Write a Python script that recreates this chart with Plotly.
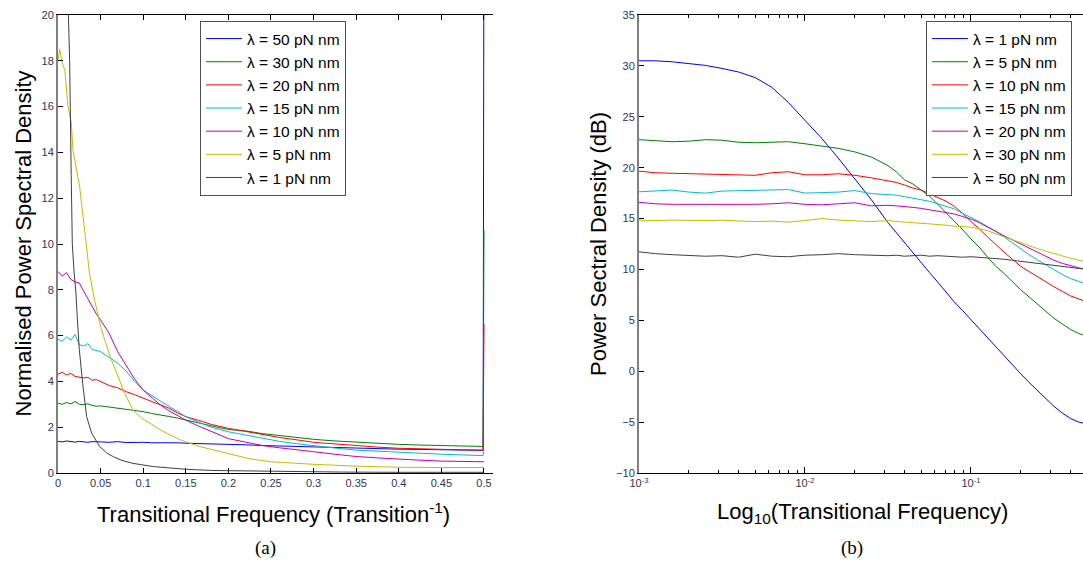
import plotly.graph_objects as go

# ---------------- Panel (a): linear frequency, normalised PSD ----------------
X_A = [0, 0.005, 0.01, 0.015, 0.02, 0.025, 0.03, 0.035, 0.04, 0.045, 0.05, 0.06, 0.07, 0.08,
       0.09, 0.1, 0.11, 0.12, 0.13, 0.14, 0.15, 0.165, 0.18, 0.2, 0.22, 0.24, 0.26, 0.28, 0.3,
       0.325, 0.35, 0.375, 0.4, 0.425, 0.45, 0.475, 0.499, 0.5]

A_L50 = [1.38, 1.36, 1.40, 1.37, 1.35, 1.38, 1.36, 1.34, 1.37, 1.35, 1.36, 1.34, 1.37, 1.33,
         1.35, 1.34, 1.32, 1.33, 1.31, 1.32, 1.30, 1.29, 1.28, 1.25, 1.23, 1.20, 1.18, 1.15, 1.12,
         1.10, 1.08, 1.06, 1.04, 1.03, 1.01, 1.00, 0.99, 25.0]
A_L30 = [3.05, 3.00, 3.08, 3.02, 3.12, 3.00, 2.98, 3.02, 2.95, 2.92, 2.93, 2.88, 2.85, 2.78,
         2.74, 2.68, 2.60, 2.55, 2.47, 2.40, 2.31, 2.20, 2.06, 1.90, 1.84, 1.72, 1.63, 1.55, 1.47,
         1.40, 1.34, 1.29, 1.25, 1.22, 1.19, 1.17, 1.16, 10.6]
A_L20 = [4.31, 4.40, 4.28, 4.35, 4.22, 4.20, 4.15, 4.18, 4.05, 4.08, 3.99, 3.82, 3.72, 3.55,
         3.42, 3.26, 3.12, 2.98, 2.84, 2.63, 2.46, 2.30, 2.12, 1.95, 1.82, 1.66, 1.55, 1.45, 1.34,
         1.27, 1.19, 1.13, 1.08, 1.05, 1.03, 1.01, 1.00, 6.5]
A_L15 = [5.84, 5.75, 5.95, 5.80, 6.05, 5.60, 5.55, 5.65, 5.40, 5.35, 5.30, 5.05, 4.80, 4.45,
         4.00, 3.62, 3.40, 3.15, 2.92, 2.68, 2.46, 2.22, 2.00, 1.80, 1.65, 1.52, 1.38, 1.28, 1.19,
         1.09, 1.00, 0.95, 0.90, 0.86, 0.82, 0.79, 0.76, 1.05]
A_L10 = [8.80, 8.60, 8.75, 8.45, 8.35, 8.30, 7.95, 7.60, 7.30, 6.95, 6.68, 6.10, 5.30, 4.70,
         4.10, 3.62, 3.30, 2.98, 2.72, 2.50, 2.31, 2.05, 1.80, 1.50, 1.35, 1.20, 1.10, 1.00, 0.93,
         0.82, 0.72, 0.66, 0.60, 0.56, 0.52, 0.50, 0.49, 0.49]

X_A5 = [0, 0.002, 0.005, 0.008, 0.0117, 0.0156, 0.0176, 0.0215, 0.0254, 0.0313, 0.037, 0.043,
        0.05, 0.055, 0.062, 0.069, 0.078, 0.088, 0.098, 0.108, 0.118, 0.128, 0.145, 0.167, 0.2,
        0.225, 0.25, 0.275, 0.3, 0.35, 0.4, 0.45, 0.5]
A_L5 = [18.0, 18.5, 17.9, 17.6, 16.0, 15.3, 14.1, 13.3, 12.5, 10.6, 8.7, 7.55, 6.4, 5.8, 5.0,
        4.36, 3.5, 2.75, 2.4, 2.17, 1.93, 1.73, 1.42, 1.15, 0.83, 0.62, 0.49, 0.43, 0.38, 0.30,
        0.25, 0.24, 0.24]

X_A1 = [0, 0.005, 0.009, 0.012, 0.0137, 0.0155, 0.0168, 0.0188, 0.021, 0.0226, 0.025, 0.029,
        0.0336, 0.0395, 0.049, 0.057, 0.065, 0.075, 0.088, 0.112, 0.151, 0.182, 0.22, 0.26,
        0.3, 0.335, 0.4, 0.45, 0.5]
A_L1 = [95, 80, 45, 20.3, 18.0, 13.0, 10.0, 8.8, 7.9, 6.8, 5.4, 3.9, 2.46, 1.74, 1.15, 0.88,
        0.71, 0.55, 0.42, 0.28, 0.16, 0.11, 0.09, 0.07, 0.05, 0.04, 0.03, 0.03, 0.03]

# ---------------- Panel (b): log frequency, PSD in dB ----------------
F_B = [0.001, 0.001259, 0.001585, 0.001995, 0.002512, 0.003162, 0.003981, 0.005012, 0.00631,
       0.007943, 0.01, 0.01259, 0.01585, 0.01995, 0.02512, 0.03162, 0.03548, 0.03981, 0.04467,
       0.05012, 0.05623, 0.0631, 0.07079, 0.07943, 0.08913, 0.1, 0.1122, 0.1259, 0.1413, 0.1585,
       0.1778, 0.1995, 0.2239, 0.2512, 0.2818, 0.3162, 0.3548, 0.3981, 0.4467, 0.5]

B_L1 = [30.5, 30.5, 30.4, 30.25, 30.05, 29.75, 29.4, 28.85, 27.9, 26.4, 24.7, 22.9, 20.95,
        18.95, 16.85, 14.6, 13.6, 12.6, 11.6, 10.6, 9.7, 8.75, 7.75, 6.8, 5.95, 5.05, 4.15, 3.3,
        2.45, 1.5, 0.6, -0.25, -1.1, -1.9, -2.7, -3.45, -4.1, -4.65, -5.0, -5.2]
B_L5 = [22.75, 22.65, 22.55, 22.6, 22.75, 22.7, 22.5, 22.45, 22.5, 22.55, 22.35, 22.1, 21.9,
        21.55, 21.05, 20.2, 19.6, 18.8, 18.4, 17.8, 17.2, 16.4, 15.6, 14.8, 13.9, 13.0, 12.2,
        11.2, 10.3, 9.6, 8.8, 8.0, 7.3, 6.6, 5.9, 5.2, 4.65, 4.1, 3.7, 3.45]
B_L10 = [19.66, 19.5, 19.45, 19.4, 19.35, 19.3, 19.3, 19.25, 19.5, 19.6, 19.3, 19.3, 19.4,
         19.25, 19.0, 18.75, 18.55, 18.3, 18.0, 17.8, 17.45, 17.05, 16.7, 16.2, 15.5, 14.7,
         14.0, 13.2, 12.4, 11.7, 11.0, 10.3, 9.8, 9.3, 8.75, 8.3, 7.85, 7.4, 7.1, 6.8]
B_L15 = [17.63, 17.75, 17.8, 17.6, 17.5, 17.7, 17.75, 17.8, 17.8, 17.85, 17.5, 17.55, 17.6,
         17.75, 17.45, 17.35, 17.3, 17.15, 17.0, 16.9, 16.7, 16.45, 16.2, 15.95, 15.5, 15.1,
         14.7, 14.2, 13.75, 13.2, 12.6, 12.0, 11.45, 10.95, 10.45, 9.95, 9.5, 9.1, 8.8, 8.55]
B_L20 = [16.6, 16.45, 16.4, 16.4, 16.35, 16.4, 16.35, 16.4, 16.45, 16.55, 16.4, 16.35, 16.45,
         16.55, 16.25, 16.3, 16.25, 16.2, 16.1, 16.0, 15.85, 15.75, 15.6, 15.45, 15.2, 14.95,
         14.6, 14.15, 13.75, 13.3, 12.9, 12.5, 12.1, 11.7, 11.3, 10.9, 10.6, 10.35, 10.15, 10.0]
B_L30 = [14.84, 14.8, 14.85, 14.8, 14.8, 14.84, 14.75, 14.7, 14.75, 14.65, 14.8, 15.0, 14.85,
         14.8, 14.7, 14.8, 14.7, 14.65, 14.6, 14.55, 14.5, 14.45, 14.35, 14.25, 14.2, 14.15,
         14.0, 13.8, 13.5, 13.2, 12.9, 12.6, 12.3, 12.05, 11.8, 11.55, 11.3, 11.1, 10.9, 10.75]
B_L50 = [11.73, 11.55, 11.45, 11.35, 11.3, 11.35, 11.2, 11.5, 11.3, 11.25, 11.4, 11.45, 11.55,
         11.45, 11.4, 11.35, 11.4, 11.3, 11.35, 11.4, 11.3, 11.35, 11.3, 11.25, 11.2, 11.25,
         11.2, 11.15, 11.1, 11.0, 10.9, 10.8, 10.7, 10.6, 10.5, 10.4, 10.3, 10.2, 10.1, 10.0]

LAMBDA_A = [50, 30, 20, 15, 10, 5, 1]
LAMBDA_B = [1, 5, 10, 15, 20, 30, 50]
COLORS = ["#0000FF", "#008000", "#FF0000", "#00BFBF", "#BF00BF", "#BFBF00", "#404040"]

A_X = [X_A, X_A, X_A, X_A, X_A, X_A5, X_A1]
A_Y = [A_L50, A_L30, A_L20, A_L15, A_L10, A_L5, A_L1]
B_Y = [B_L1, B_L5, B_L10, B_L15, B_L20, B_L30, B_L50]

FONT = "Arial, Liberation Sans, sans-serif"
TICKCOL = "#333355"

fig = go.Figure()
for lam, col, xs, ys in zip(LAMBDA_A, COLORS, A_X, A_Y):
    fig.add_trace(go.Scatter(x=xs, y=ys, mode="lines", line=dict(color=col, width=1),
                             name=f"\u03bb = {lam} pN nm", xaxis="x", yaxis="y",
                             legend="legend"))
for lam, col, ys in zip(LAMBDA_B, COLORS, B_Y):
    fig.add_trace(go.Scatter(x=F_B, y=ys, mode="lines", line=dict(color=col, width=1),
                             name=f"\u03bb = {lam} pN nm", xaxis="x2", yaxis="y2",
                             legend="legend2"))

W, H = 1083, 569
dom_y = [(H - 473) / H, (H - 15) / H]
dom_xa = [58 / W, 493 / W]
dom_xb = [639 / W, 1.0]

tickfont = dict(family=FONT, size=11, color=TICKCOL)
legfont = dict(family=FONT, size=15.5, color="#000000")

minor_vals = []
for dec in [0.001, 0.01, 0.1]:
    for m in range(2, 10):
        v = dec * m
        if v < 0.48:
            minor_vals.append(v)

fig.update_layout(
    template="none",
    width=W, height=H, margin=dict(l=0, r=0, t=0, b=0, pad=0),
    paper_bgcolor="white", plot_bgcolor="white",
    showlegend=True,
    xaxis=dict(domain=dom_xa, anchor="y", range=[0, 0.5106], dtick=0.05, tick0=0,
               automargin=False,
               showgrid=False, zeroline=False, showline=True, linecolor="#000000",
               linewidth=1, mirror="ticks", ticks="inside", ticklen=5, tickcolor="#000000",
               tickfont=tickfont),
    yaxis=dict(domain=dom_y, anchor="x", range=[0, 20], dtick=2, showgrid=False,
               automargin=False,
               zeroline=False, showline=True, linecolor="#808080", linewidth=2,
               ticks="inside", ticklen=5, tickcolor="#000000", tickfont=tickfont),
    yaxis3=dict(overlaying="y", anchor="x", side="right", range=[0, 20], dtick=2,
                automargin=False,
                showgrid=False, zeroline=False, showline=True, linecolor="#000000",
                linewidth=1, ticks="inside", ticklen=5, tickcolor="#000000",
                showticklabels=False),
    xaxis2=dict(domain=dom_xb, anchor="y2", type="log", range=[-3, -0.325],
                automargin=False,
                tickmode="array", tickvals=[0.001, 0.01, 0.1],
                ticktext=["10<sup>-3</sup>", "10<sup>-2</sup>", "10<sup>-1</sup>"],
                showgrid=False, zeroline=False, showline=True, linecolor="#000000",
                linewidth=1, mirror="ticks", ticks="inside", ticklen=6, tickcolor="#000000",
                minor=dict(tickmode="array", tickvals=minor_vals, ticks="inside", ticklen=3,
                           tickcolor="#000000", showgrid=False),
                tickfont=tickfont),
    yaxis2=dict(domain=dom_y, anchor="x2", range=[-10, 35], dtick=5, showgrid=False,
                automargin=False,
                zeroline=False, showline=True, linecolor="#808080", linewidth=2,
                ticks="inside", ticklen=5, tickcolor="#000000", tickfont=tickfont),
    yaxis4=dict(overlaying="y2", anchor="x2", side="right", range=[-10, 35], dtick=5,
                automargin=False,
                showgrid=False, zeroline=False, showline=False, ticks="inside", ticklen=5,
                tickcolor="#000000", showticklabels=False),
    legend=dict(x=200 / W, y=1 - 21 / H, xanchor="left", yanchor="top", itemwidth=36,
                bgcolor="white", bordercolor="#505050", borderwidth=1, font=legfont),
    legend2=dict(x=926 / W, y=1 - 21 / H, xanchor="left", yanchor="top", itemwidth=36,
                 bgcolor="white", bordercolor="#505050", borderwidth=1, font=legfont),
)

titlefont = dict(family=FONT, size=22, color="#000000")
capfont = dict(family="Liberation Serif, DejaVu Serif, serif", size=19, color="#000000")
ann = [
    dict(text="Normalised Power Spectral Density", x=22.5 / W, y=1 - 244 / H, textangle=-90,
         font=titlefont),
    dict(text="Transitional Frequency (Transition<sup>-1</sup>)", x=273 / W, y=1 - 513 / H,
         font=titlefont),
    dict(text="Power Sectral Density (dB)", x=598 / W, y=1 - 244 / H, textangle=-90,
         font=titlefont),
    dict(text="Log<sub>10</sub>(Transitional Frequency)", x=862 / W, y=1 - 513 / H,
         font=titlefont),
    dict(text="(a)", x=265 / W, y=1 - 548 / H, font=capfont),
    dict(text="(b)", x=852 / W, y=1 - 548 / H, font=capfont),
]
for a in ann:
    a.update(xref="paper", yref="paper", xanchor="center", yanchor="middle", showarrow=False)
fig.update_layout(annotations=ann)

fig.write_html("out.html")
